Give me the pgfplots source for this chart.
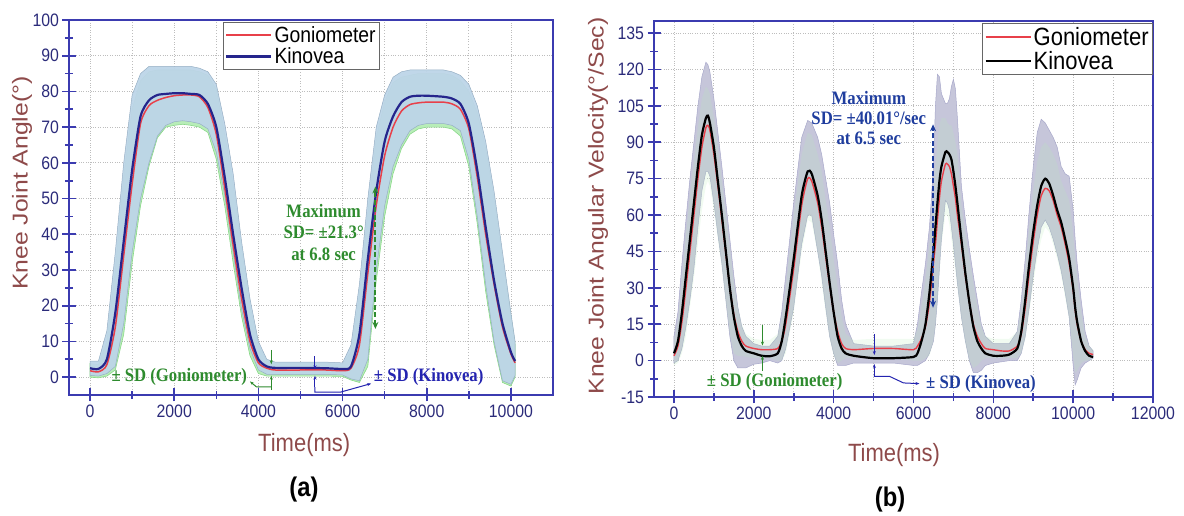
\documentclass[border=0pt]{standalone}
\usepackage{pgfplots}
\pgfplotsset{compat=1.18}
\usepackage{pgfplotstable}
\usepgfplotslibrary{fillbetween}
\usetikzlibrary{arrows.meta}
\usepackage{fontspec}
\setmainfont{Liberation Sans}
\newfontfamily\tickf[FakeStretch=0.88]{Liberation Sans}
\newfontfamily\labf[FakeStretch=0.88]{Liberation Sans}
\newfontfamily\ylabf[FakeStretch=1.15]{Liberation Sans}
\newfontfamily\annf[FakeStretch=0.88]{Liberation Serif}

\definecolor{axc}{HTML}{3B3BB0}
\definecolor{tickc}{HTML}{2B2B7A}
\definecolor{labc}{HTML}{8E4A4A}
\definecolor{kinL}{HTML}{25258C}
\definecolor{gonR}{HTML}{E8404A}
\definecolor{bandL}{HTML}{BDD5E8}
\definecolor{bandLe}{HTML}{96AFC4}
\definecolor{bandR}{HTML}{C6C6DA}
\definecolor{bandRe}{HTML}{A8A8CA}
\definecolor{gband}{HTML}{B8EDB8}
\definecolor{gbande}{HTML}{8AD88A}
\definecolor{anng}{HTML}{2E8B2E}
\definecolor{annb}{HTML}{2424B0}
\definecolor{annb2}{HTML}{1F3D9E}
\definecolor{gridc}{HTML}{BDBDBD}

\pgfplotsset{
  legend image code/.code={\draw[#1] (0pt,0pt) -- (45pt,0pt);},
  panel/.style={
    scale only axis, anchor=south west,
    axis line style={axc, line width=2pt},
    tick align=center, xtick pos=left, ytick pos=left,
    major tick length=13pt, minor tick length=8pt,
    every tick/.style={axc, line width=1.6pt},
    xmajorgrids, xminorgrids, ymajorgrids,
    grid style={gridc, dotted, line width=0.8pt},
    minor grid style={gridc, dotted, line width=0.8pt},
    tick label style={font=\tickf\fontsize{18}{20}\selectfont, text=tickc},
    /pgf/number format/assume math mode=true,
    /pgf/number format/1000 sep={},
    scaled x ticks=false,
    xlabel style={font=\labf\fontsize{25}{28}\selectfont, text=labc, anchor=center},
    ylabel style={font=\ylabf\fontsize{21.5}{24}\selectfont, text=labc, anchor=center},
    legend style={draw=black!60, line width=0.8pt, fill=white, inner sep=2pt, text=black},
    legend cell align=left,
  }
}

% Left panel: knee joint angle (deg)
\pgfplotstableread{
t km ku kl gm gu gl
0 2.5 4.5 0.5 1.8 3.8 0.0
200 2.3 4.5 0.3 1.5 3.5 -0.2
400 5 13 1 3.5 10 0.3
600 18 35 3 14 30 2
800 38 60 15 34 56 12
1000 58 79 35 54 75 32
1200 73 85 50 71 83 48
1400 77.5 87 60 76 85.5 59
1600 79 87 67.5 77.5 86 67
1800 79.3 87 70.5 78.3 86 70
2000 79.5 87 71.5 78.8 86 70.5
2200 79.5 87 71.8 79 86 70.8
2400 79.3 87 71.5 79 86 70.5
2600 79 86.5 71 78.5 85.5 70
2800 76.5 85.5 69.5 75.5 84.5 68.5
3000 70 82 63 68 80.5 61
3200 56 71 51 53 68 48
3400 40 57 35 37 54 32
3600 25 38 19 22 36 17
3800 12 22 8 10 20 6
4000 5 10 2 4 9 1
4200 3 5 0.8 2.5 4.5 0.3
4400 2.6 4.2 0.8 2 3.8 0.3
5000 2.6 4.2 0.8 2 3.8 0.3
5600 2.5 4.2 0.8 2 3.8 0.3
6000 2.3 4 0.6 1.8 3.6 0.2
6200 3 9 -0.5 2.5 7 -0.8
6400 12 26 -1 9 23 -1.5
6600 33 50 5 29 46 3
6800 52 70 30 48 67 27
7000 66 79 48 62 77 45
7200 73 84 59 70 82.5 57
7400 77 85.5 65 74.5 84 64
7600 78.5 86 69 76.3 84.5 68
7800 78.8 86 70.5 76.8 85 69.5
8000 78.8 86 71 77 85 70
8400 78.5 86 71 77 85 70
8600 78 85.5 70.5 76.5 84.5 69.5
8800 76.5 84.5 69 75 83 67.5
9000 71 82 61 69.5 80 59
9200 58 76 45 56 74 43
9400 42 66 26 40 64 24
9600 27 52 10 26 50 9
9800 15 35 -1 14 33 -1.5
10000 7 18 -2 6.5 17 -2.5
10100 4.5 10 0.5 4 9 0
}\leftdata

% Right panel: knee joint angular velocity (deg/s)
\pgfplotstableread{
t km ku kl gm gu gl
0 3 10 -1 2 8 -2
100 8 20 0 6 16 -1
200 20 40 5 16 34 3
300 35 58 14 30 52 10
400 50 75 25 45 68 22
500 65 90 38 60 82 34
600 80 105 55 75 96 48
700 93 117 70 88 108 62
800 100 123 78 96 113 72
850 101 122 78 97 112 74
900 98 119 76 95 110 72
1000 88 108 65 85 100 62
1100 74 94 52 72 88 50
1200 60 80 40 58 74 38
1300 45 65 25 44 60 24
1400 30 50 10 30 46 11
1500 18 35 0 19 32 3
1600 10 22 -3 12 22 2
1700 6 14 -3 8 15 2
1800 4 10 -3 6 11 1.5
2000 3 7 -1.5 5 9 1
2200 2 6 -1 4.5 8.5 1
2400 1.8 6 0 4.5 8.5 1
2600 3 10 -1 5 11 0
2700 8 20 0 8 18 0
2800 18 35 5 15 30 3
3000 42 65 22 38 60 20
3200 68 92 48 64 85 45
3350 78 99 60 75 94 58
3450 77 98 60 74 93 57
3600 68 92 45 65 85 44
3700 58 85 35 55 78 32
3800 45 75 22 43 66 20
3900 32 65 10 31 55 9
4000 20 52 3 20 42 2
4100 10 40 -2 12 30 -1
4200 5 25 -2 7 18 0
4300 3 15 -2 5 11 1
4500 2 7 -1 4.5 8.5 1
5000 1 6 -1 5 9 1
5500 1 6 -1 5 9 1
6000 1.5 7 -2 4.5 9 0
6100 3 15 -2 6 13 0
6200 8 28 -1 9 22 0
6300 15 40 0 14 33 1
6400 28 55 3 24 48 2
6500 45 80 8 40 68 8
6550 55 105 15 48 80 14
6600 65 118 25 58 90 24
6650 74 117 38 67 97 35
6700 80 110 50 74 100 48
6800 86 106 66 81 100 60
6850 86 106 65 81 98 60
6900 85 108 62 80 97 56
6950 83 113 55 77 97 50
7000 78 116 48 72 94 44
7050 72 112 40 67 90 37
7100 65 100 32 60 85 30
7200 50 72 18 48 64 17
7300 36 58 8 35 52 7
7400 24 46 0 24 42 0
7500 14 35 -5 15 32 -3
7600 8 25 -5 10 22 -2
7700 5 15 -4 7 14 0
7800 3 10 -2 5 10 1
8000 2 7 -1 4.5 9 1
8200 2 7 -0.5 4 9 1
8400 2.5 7 0 4 9 1
8600 5 12 0 6 12 1
8700 12 25 3 11 22 3
8800 25 42 10 22 38 9
8900 40 62 22 36 55 20
9000 53 80 35 49 70 32
9100 64 94 46 60 82 42
9200 72 99.5 55 68 88 50
9300 75 98 58 71 90 55
9400 73 95 55 70 88 53
9500 68 92 50 66 85 48
9600 62 88 44 60 81 42
9700 57 80 37 55 74 35
9800 50 77 28 48 70 26
9900 42 76 18 40 66 17
10000 30 62 -2 29 52 2
10050 22 50 -10 21 42 -5
10100 16 40 -8 15 34 -4
10200 8 25 -3 8 20 -1
10300 4 12 -1 4.5 10 0
10400 2 6 0 3 6 0
10500 1.5 4 1 2.5 4.5 1
}\rightdata

\begin{document}
\begin{tikzpicture}
\path (0pt,0pt) rectangle (1184pt,512pt);

% ---------------- (a) ----------------
\begin{axis}[panel, at={(69pt,117pt)}, width=484pt, height=375pt,
  xmin=-500, xmax=11000, ymin=-5, ymax=100,
  xtick={0,2000,...,10000}, minor xtick={1000,3000,...,9000},
  ytick={0,10,...,100}, minor ytick={5,15,...,95},
  xlabel={Time(ms)}, ylabel={Knee Joint Angle(°)},
  xlabel style={at={(axis description cs:0.486,-0.133)}},
  ylabel style={at={(axis description cs:-0.097,0.565)}},
  legend style={at={(0.318,0.995)}, anchor=north west,
    font=\labf\fontsize{22}{24}\selectfont},
]
\addplot[draw=none, name path=KU, forget plot] table[x=t,y=ku]{\leftdata};
\addplot[draw=none, name path=KL, forget plot] table[x=t,y=kl]{\leftdata};
\addplot[draw=none, name path=GU, forget plot] table[x=t,y=gu]{\leftdata};
\addplot[draw=none, name path=GL, forget plot] table[x=t,y=gl]{\leftdata};
\addplot[fill=gband, draw=gbande, line width=0.6pt, forget plot] fill between[of=GU and GL];
\addplot[fill=bandL, fill opacity=0.95, draw=bandLe, line width=0.5pt, forget plot] fill between[of=KU and KL];
\addplot[gonR, line width=1.5pt, smooth, tension=0.4] table[x=t,y=gm]{\leftdata};
\addplot[kinL, line width=2.2pt, smooth, tension=0.4] table[x=t,y=km]{\leftdata};
\legend{Goniometer, Kinovea}

\node[align=center, text=anng, font=\annf\bfseries\fontsize{19}{21.7}\selectfont]
  at (axis cs:5550,40.5) {Maximum\\SD= ±21.3°\\at 6.8 sec};
\draw[anng, dash pattern=on 5pt off 2.5pt, line width=2pt, {Stealth[length=7pt,width=6pt]}-{Stealth[length=7pt,width=6pt]}]
  (axis cs:6780,13.5) -- (axis cs:6780,53.4);
\node[text=anng, font=\annf\bfseries\fontsize{19}{21}\selectfont] at (axis cs:2120,0) {± SD (Goniometer)};
\draw[anng, line width=1pt, -{Stealth[length=4pt]}] (axis cs:4307,7.6) -- (axis cs:4307,3.6);
\draw[anng, line width=1pt, -{Stealth[length=4pt]}] (axis cs:4307,-3.6) -- (axis cs:4307,0.4);
\draw[anng, line width=1pt, {Stealth[length=4pt]}-] (axis cs:3800,-1.2) -- (axis cs:3950,-2.7) -- (axis cs:4307,-2.7);
\node[text=annb, font=\annf\bfseries\fontsize{19}{21}\selectfont] at (axis cs:8046,0) {± SD (Kinovea)};
\draw[annb, line width=1pt, -{Stealth[length=4pt]}] (axis cs:5344,5.8) -- (axis cs:5344,2.2);
\draw[annb, line width=1pt, -{Stealth[length=4pt]}] (axis cs:5344,-2.8) -- (axis cs:5344,0.4);
\draw[annb, line width=1pt, -{Stealth[length=4pt]}] (axis cs:5344,-2.8) -- (axis cs:5344,-4.2) -- (axis cs:5950,-4.2) -- (axis cs:6680,-1.8);
\end{axis}

% ---------------- (b) ----------------
\begin{axis}[panel, at={(654pt,115pt)}, width=499pt, height=376pt,
  xmin=-500, xmax=12000, ymin=-15, ymax=140,
  xtick={0,2000,...,12000}, minor xtick={1000,3000,...,11000},
  ytick={-15,0,...,135}, minor ytick={-7.5,7.5,...,127.5},
  xlabel={Time(ms)}, ylabel={Knee Joint Angular Velocity(°/Sec)},
  xlabel style={at={(axis description cs:0.481,-0.154)}},
  ylabel style={at={(axis description cs:-0.112,0.508)}},
  legend style={at={(1,0.995)}, anchor=north east,
    font=\labf\fontsize{25}{27}\selectfont},
]
\addplot[draw=none, name path=KU, forget plot] table[x=t,y=ku]{\rightdata};
\addplot[draw=none, name path=KL, forget plot] table[x=t,y=kl]{\rightdata};
\addplot[draw=none, name path=GU, forget plot] table[x=t,y=gu]{\rightdata};
\addplot[draw=none, name path=GL, forget plot] table[x=t,y=gl]{\rightdata};
\addplot[fill=bandR, draw=bandRe, line width=0.5pt, forget plot] fill between[of=KU and KL];
\addplot[fill=gband, fill opacity=0.2, draw=none, forget plot] fill between[of=GU and GL];
\addplot[gonR, line width=1.4pt, smooth, tension=0.4] table[x=t,y=gm]{\rightdata};
\addplot[black, line width=2.2pt, smooth, tension=0.4] table[x=t,y=km]{\rightdata};
\legend{Goniometer, Kinovea}

\node[align=center, text=annb2, font=\annf\bfseries\fontsize{19}{20}\selectfont]
  at (axis cs:4880,100) {Maximum\\SD= ±40.01°/sec\\at 6.5 sec};
\draw[annb2, dash pattern=on 5pt off 2.5pt, line width=2pt, {Stealth[length=7pt,width=6pt]}-{Stealth[length=7pt,width=6pt]}]
  (axis cs:6490,21.8) -- (axis cs:6490,97.4);
\node[text=anng, font=\annf\bfseries\fontsize{19}{21}\selectfont] at (axis cs:2523,-8.9) {± SD (Goniometer)};
\draw[anng, line width=1pt, -{Stealth[length=4pt]}] (axis cs:2217,14.7) -- (axis cs:2217,6.2);
\draw[anng, line width=1pt, -{Stealth[length=4pt]}] (axis cs:2217,-4.1) -- (axis cs:2217,2);
\node[text=annb2, font=\annf\bfseries\fontsize{19}{21}\selectfont] at (axis cs:7690,-9.6) {± SD (Kinovea)};
\draw[annb, line width=1pt, -{Stealth[length=4pt]}] (axis cs:5019,11) -- (axis cs:5019,2.3);
\draw[annb, line width=1pt, -{Stealth[length=4pt]}] (axis cs:5019,-5.5) -- (axis cs:5019,-1.4);
\draw[annb, line width=1pt, -{Stealth[length=4pt]}] (axis cs:5019,-5.5) -- (axis cs:5019,-6.5) -- (axis cs:5400,-6.5) -- (axis cs:5750,-9.2) -- (axis cs:6150,-9.5);
\end{axis}

\node[font=\labf\bfseries\fontsize{27}{30}\selectfont] at (304pt,22pt) {(a)};
\node[font=\labf\bfseries\fontsize{27}{30}\selectfont] at (890pt,12pt) {(b)};
\end{tikzpicture}
\end{document}
